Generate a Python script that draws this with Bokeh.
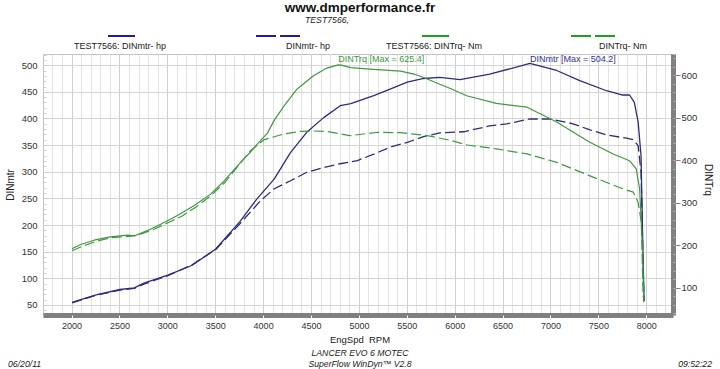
from bokeh.plotting import figure
from bokeh.models import Range1d, LinearAxis, SingleIntervalTicker, Div
from bokeh.layouts import column, row
from bokeh.embed import file_html
from bokeh.resources import INLINE
from bokeh.core.properties import value

FONT = "Liberation Sans"
BLUE = "#2d2d7d"
GREEN = "#3f9a3f"
LEG_BLUE = "#1c1ca8"
LEG_GREEN = "#1fa01f"

# ---------------- data ----------------
# DINmtr (hp) - current run TEST7566 (solid)
pwr_rpm = [2000, 2250, 2500, 2650, 2750, 3000, 3250, 3500, 3750, 3930, 4110, 4280, 4450,
           4630, 4800, 4910, 5150, 5320, 5500, 5670, 5840, 6050, 6360, 6780, 7060, 7300,
           7580, 7740, 7820, 7870, 7910, 7940, 7960, 7972]
pwr_hp = [56, 70, 80, 83, 92, 107, 125, 156, 207, 250, 287, 337, 375,
          403, 425, 429, 444, 456, 469, 476, 478, 474, 484, 504.2, 491, 472,
          453, 445, 445, 431, 394, 331, 150, 58]

# DINmtr (hp) - previous run (dashed)
pwr_old_rpm = [2000, 2250, 2500, 2650, 2750, 3000, 3250, 3500, 3750, 3970, 4110, 4280, 4450,
               4630, 4800, 4980, 5150, 5320, 5500, 5670, 5840, 6090, 6360, 6540, 6780, 6990,
               7230, 7400, 7580, 7790, 7860, 7910, 7940, 7960, 7970]
pwr_old_hp = [55, 69, 79, 82, 90, 106, 126, 155, 203, 247, 269, 284, 300,
              309, 316, 322, 334, 347, 356, 367, 374, 376, 387, 391, 400, 400,
              391, 380, 370, 364, 361, 350, 300, 144, 60]

# DINTrq (Nm) - current run TEST7566 (solid)
trq_rpm = [2000, 2090, 2230, 2400, 2580, 2650, 2790, 2930, 3100, 3280, 3450, 3590, 3760,
           3860, 3950, 4040, 4110, 4210, 4350, 4520, 4660, 4780, 4810, 4910, 5150, 5430,
           5570, 5670, 5840, 5950, 6120, 6430, 6750, 7060, 7400, 7650, 7820, 7890, 7925,
           7943, 7958, 7968]
trq_nm = [193, 203, 213, 221, 225, 223, 236, 251, 271, 295, 322, 353, 396,
          420, 443, 465, 495, 528, 569, 600, 618, 625.4, 625, 619, 615, 611,
          604, 596, 580, 570, 553, 535, 526, 491, 444, 416, 400, 381, 334,
          255, 177, 67]

# DINTrq (Nm) - previous run (dashed)
trq_old_rpm = [2000, 2100, 2250, 2400, 2600, 2700, 2850, 3000, 3150, 3300, 3450, 3600, 3760,
               3860, 4000, 4210, 4385, 4520, 4660, 4900, 5190, 5430, 5710, 5950, 6125, 6430,
               6750, 7060, 7400, 7750, 7860, 7910, 7943, 7962]
trq_old_nm = [188, 198, 210, 219, 222, 226, 238, 254, 270, 292, 318, 350, 395,
              423, 449, 463, 469, 470, 469, 459, 467, 466, 459, 448, 437, 428,
              416, 396, 365, 334, 326, 302, 255, 80]

legend_labels = ["TEST7566: DINmtr- hp", "DINmtr- hp", "TEST7566: DINTrq- Nm", "DINTrq- Nm"]
legend_colors = [LEG_BLUE, LEG_BLUE, LEG_GREEN, LEG_GREEN]
legend_dashed = [False, True, False, True]

W = 720
CSS_FONT = "'Liberation Sans', Arial, sans-serif"


def txt(left, top, width, text, size, lh, align="center", extra=""):
    return (f'<div style="position:absolute;left:{left}px;top:{top}px;width:{width}px;'
            f'text-align:{align};font-size:{size}px;line-height:{lh}px;white-space:nowrap;'
            f'color:#222;{extra}">{text}</div>')


def seg(left, top, width, color):
    return (f'<div style="position:absolute;left:{left}px;top:{top}px;width:{width}px;'
            f'height:0;border-top:2px solid {color};"></div>')


# ---------------- header (Div) ----------------
HH = 54
leg_line_left = [108, 256, 422, 571]
leg_line_width = [27, 45, 27, 44]
leg_text_center = [120, 308, 434, 623]
parts = [txt(0, 1, W, "www.dmperformance.fr", 13.5, 13, extra="font-weight:bold;color:#111;"),
         txt(227, 16, 200, "TEST7566,", 8.7, 9, extra="font-style:italic;")]
for i in range(4):
    if legend_dashed[i]:
        half = (leg_line_width[i] - 4) // 2
        parts.append(seg(leg_line_left[i], 35, half, legend_colors[i]))
        parts.append(seg(leg_line_left[i] + half + 4, 35, half, legend_colors[i]))
    else:
        parts.append(seg(leg_line_left[i], 35, leg_line_width[i], legend_colors[i]))
    parts.append(txt(leg_text_center[i] - 100, 41, 200, legend_labels[i], 9, 10))
hdr = Div(width=W, height=HH, margin=0,
          text=f'<div style="position:relative;width:{W}px;height:{HH}px;font-family:{CSS_FONT};">'
               + "".join(parts) + "</div>")

# ---------------- main plot ----------------
PW = 700
PH = 279
p = figure(width=PW, height=PH, x_range=Range1d(1702, 8279), y_range=Range1d(31.2, 521),
           toolbar_location=None, output_backend="svg",
           min_border_left=43, min_border_right=27, min_border_top=0, min_border_bottom=18,
           background_fill_color="white", margin=0)
p.extra_y_ranges = {"trq": Range1d(35.8, 650)}
p.outline_line_color = "#c4c4c4"

xa = p.xaxis[0]
xa.ticker = SingleIntervalTicker(interval=500, num_minor_ticks=5)
xa.axis_line_color = "#808080"
xa.axis_line_width = 5
xa.major_tick_line_color = "white"
xa.major_tick_in = 0
xa.major_tick_out = 5
xa.minor_tick_line_color = None
xa.major_label_standoff = 2
xa.major_label_text_font = FONT
xa.major_label_text_font_size = "9px"
xa.major_label_text_color = "#333333"

ya = p.yaxis[0]
ya.ticker = SingleIntervalTicker(interval=50, num_minor_ticks=5)
ya.axis_label = "DINmtr"
ya.axis_line_color = None
ya.major_tick_line_color = "#c8c8c8"
ya.major_tick_in = 4
ya.major_tick_out = 0
ya.minor_tick_line_color = "#d0d0d0"
ya.minor_tick_in = 3
ya.minor_tick_out = 0
ya.major_label_standoff = 6
ya.axis_label_standoff = 3
ya.major_label_text_font = FONT
ya.major_label_text_font_size = "9.5px"
ya.major_label_text_color = "#333333"
ya.axis_label_text_font = FONT
ya.axis_label_text_font_size = "10px"
ya.axis_label_text_font_style = "normal"
ya.axis_label_text_color = "#222222"

ra = LinearAxis(y_range_name="trq", ticker=SingleIntervalTicker(interval=100, num_minor_ticks=5))
ra.axis_line_color = "#808080"
ra.axis_line_width = 5
ra.major_tick_line_color = "#808080"
ra.major_tick_in = 0
ra.major_tick_out = 7
ra.minor_tick_line_color = "#b4b4b4"
ra.minor_tick_in = 0
ra.minor_tick_out = 2
ra.major_label_standoff = 1
ra.major_label_text_font = FONT
ra.major_label_text_font_size = "9.5px"
ra.major_label_text_color = "#333333"
p.add_layout(ra, "right")

p.xgrid.grid_line_color = "#cfcfcf"
p.xgrid.minor_grid_line_color = "#e3e3e3"
p.ygrid.grid_line_color = "#d6d6d6"

p.line(pwr_rpm, pwr_hp, line_color=BLUE, line_width=1.3)
p.line(pwr_old_rpm, pwr_old_hp, line_color=BLUE, line_width=1.3, line_dash="10 4")
p.line(trq_rpm, trq_nm, line_color=GREEN, line_width=1.2, y_range_name="trq")
p.line(trq_old_rpm, trq_old_nm, line_color=GREEN, line_width=1.2, line_dash="10 4",
       y_range_name="trq")

# peak annotations, left-aligned at the peak rpm
trq_peak = max(trq_nm)
pwr_peak = max(pwr_hp)
trq_peak_rpm = trq_rpm[trq_nm.index(trq_peak)]
pwr_peak_rpm = pwr_rpm[pwr_hp.index(pwr_peak)]
ann_y = 513
p.text(x=[trq_peak_rpm], y=[ann_y], text=[f"DINTrq [Max = {trq_peak}]"], text_font=value(FONT),
       text_font_size="9px", text_color="#3c9a3c", text_align="left", text_baseline="middle")
p.text(x=[pwr_peak_rpm], y=[ann_y], text=[f"DINmtr [Max = {pwr_peak}]"], text_font=value(FONT),
       text_font_size="9px", text_color="#34349a", text_align="left", text_baseline="middle")

# right axis title (reads top to bottom)
RW = W - PW
rlab = Div(width=RW, height=PH, margin=0,
           text=f'<div style="position:relative;width:{RW}px;height:{PH}px;font-family:{CSS_FONT};">'
                f'<div style="position:absolute;left:3px;top:110px;width:10px;font-size:10px;'
                f'line-height:10px;writing-mode:vertical-rl;color:#222;white-space:nowrap;">DINTrq</div></div>')

# ---------------- footer (Div) ----------------
FH = 369 - HH - PH
fparts = [txt(0, 2, W, "EngSpd&nbsp; RPM", 9.5, 10),
          txt(0, 16, W, "LANCER EVO 6 MOTEC", 8.7, 9, extra="font-style:italic;"),
          txt(0, 27, W, "SuperFlow WinDyn&trade; V2.8", 8.7, 9, extra="font-style:italic;"),
          txt(8, 27, 200, "06/20/11", 8.7, 9, align="left", extra="font-style:italic;"),
          txt(512, 27, 200, "09:52:22", 8.7, 9, align="right", extra="font-style:italic;")]
ftr = Div(width=W, height=FH, margin=0,
          text=f'<div style="position:relative;width:{W}px;height:{FH}px;font-family:{CSS_FONT};">'
               + "".join(fparts) + "</div>")

layout = column(hdr, row(p, rlab, spacing=0, margin=0), ftr, spacing=0, margin=0)
open("out.html", "w").write(file_html(layout, INLINE))
